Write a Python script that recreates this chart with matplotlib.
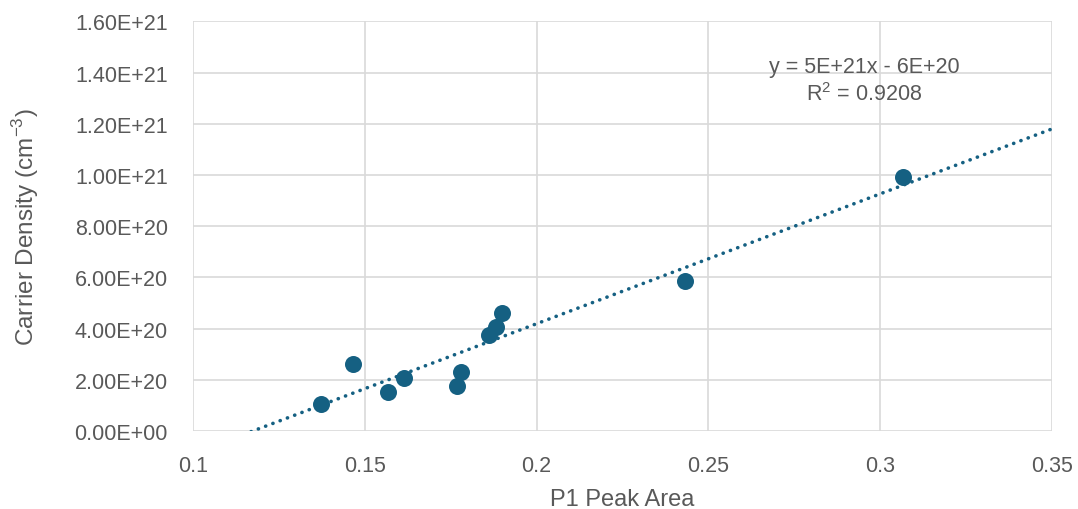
import numpy as np
from matplotlib import pyplot as plt

# P1 peak area vs carrier density (cm^-3)
peak_area = [0.1373, 0.1465, 0.1567, 0.1614, 0.1768, 0.1779, 0.1860, 0.1882, 0.1899, 0.2433, 0.3066]
carrier_density = [1.055e20, 2.62e20, 1.54e20, 2.06e20, 1.77e20, 2.29e20, 3.76e20, 4.05e20, 4.61e20, 5.85e20, 9.92e20]

x_ticks = [0.1, 0.15, 0.2, 0.25, 0.3, 0.35]
y_ticks = np.arange(0, 1.61e21, 2e20)

trend_text = "y = 5E+21x - 6E+20"
r2_text = "R$^2$ = 0.9208"

GREY = "#595959"
BLUE = "#156082"

plt.rcParams['font.family'] = ['Liberation Sans', 'DejaVu Sans']
plt.rcParams['mathtext.fontset'] = 'custom'
plt.rcParams['mathtext.rm'] = 'Liberation Sans'

fig = plt.figure(figsize=(10.78, 5.10), dpi=100)
ax = fig.add_axes([0.179, 0.153, 0.797, 0.803])

# linear trendline, forecast forward to 0.35
slope, intercept = np.polyfit(peak_area, carrier_density, 1)
xs = np.array([0.1, 0.35])
ax.plot(xs, slope * xs + intercept, linestyle=(0, (0.05, 2.1)), linewidth=2.6,
        color=BLUE, dash_capstyle='round', zorder=2)

ax.scatter(peak_area, carrier_density, s=150, color=BLUE, zorder=3, linewidths=0)

ax.set_xlim(0.1, 0.35)
ax.set_ylim(0, 1.6e21)
ax.set_xticks(x_ticks)
ax.set_xticklabels([f"{t:g}" for t in x_ticks])
ax.set_yticks(y_ticks)
ax.set_yticklabels([f"{t:.2E}" for t in y_ticks])

ax.grid(color="#D9D9D9", linewidth=1.2)
ax.set_axisbelow(True)
for s in ax.spines.values():
    s.set_visible(False)
ax.tick_params(length=0, labelsize=15.5, colors=GREY)
ax.tick_params(axis='x', pad=17)
ax.tick_params(axis='y', pad=18)

ax.set_xlabel("P1 Peak Area", fontsize=17, color=GREY, labelpad=9)
ax.set_ylabel("Carrier Density (cm$^{-3}$)", fontsize=17.5, color=GREY, labelpad=24)

ax.text(0.2953, 1.425e21, trend_text, ha='center', va='center', fontsize=15.5, color=GREY)
ax.text(0.2953, 1.32e21, r2_text, ha='center', va='center', fontsize=15.5, color=GREY)

fig.savefig("out.png", dpi=100, facecolor="white")
